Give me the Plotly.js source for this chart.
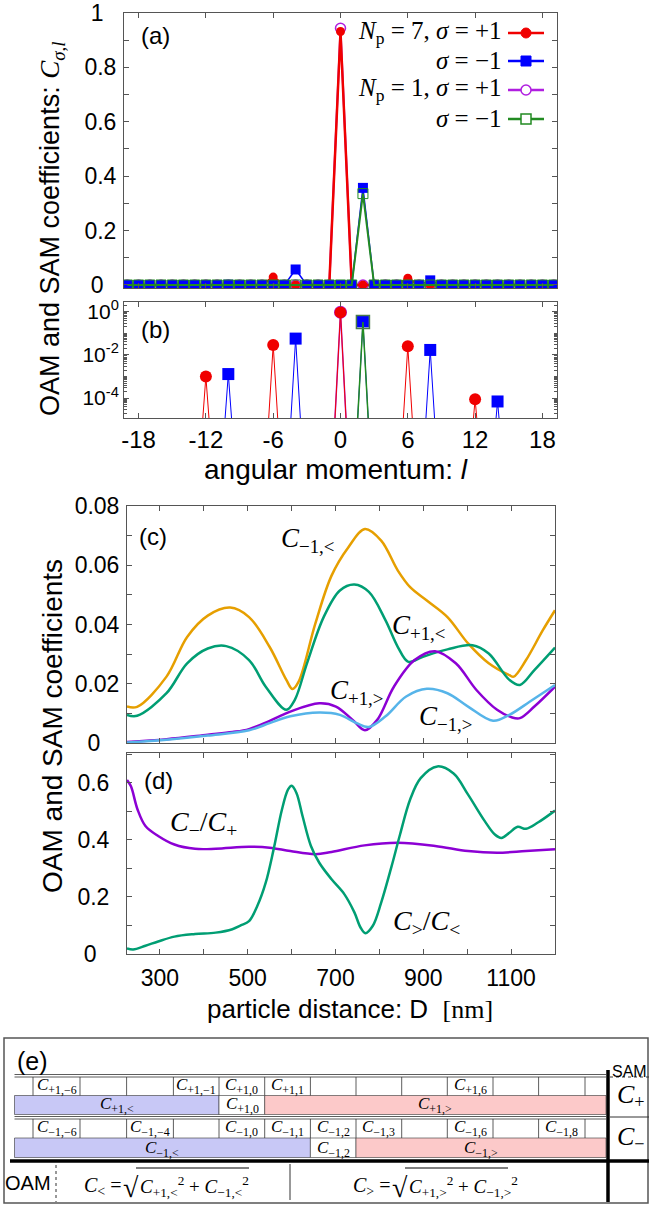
<!DOCTYPE html>
<html><head><meta charset="utf-8">
<script src="https://cdn.plot.ly/plotly-3.0.1.min.js"></script>
<style>html,body{margin:0;padding:0;background:#fff}#chart{width:649px;height:1207px}</style>
</head><body><div id="chart"></div>
<script>
const W = 649, H = 1207;
const px = x => x / W, py = y => 1 - y / H;

// ---------- panels (a),(b): coefficients vs angular momentum l ----------
const z = 1e-10; // numerically zero coefficient
const lValues = [-19,-18,-17,-16,-15,-14,-13,-12,-11,-10,-9,-8,-7,-6,-5,-4,-3,-2,-1,0,1,2,3,4,5,6,7,8,9,10,11,12,13,14,15,16,17,18,19];
const cPlusNp7  = [z,z,z,z,z,z,z,1.0e-3,z,z,z,z,z,0.029,z,z,z,z,z,0.932,z,z,z,z,z,0.025,z,z,z,z,z,8.9e-5,z,z,z,z,z,z,z];
const cMinusNp7 = [z,z,z,z,z,z,z,z,z,1.3e-3,z,z,z,z,z,0.057,z,z,z,z,z,0.357,z,z,z,z,z,0.017,z,z,z,z,z,7.0e-5,z,z,z,z,z];
const cPlusNp1  = [z,z,z,z,z,z,z,z,z,z,z,z,z,z,z,z,z,z,z,0.944,z,z,z,z,z,z,z,z,z,z,z,z,z,z,z,z,z,z,z];
const cMinusNp1 = [z,z,z,z,z,z,z,z,z,z,z,z,z,z,z,z,z,z,z,z,z,0.336,z,z,z,z,z,z,z,z,z,z,z,z,z,z,z,z,z];
const lTicks = [-18,-12,-6,0,6,12,18];
const lTickText = ['-18','-12','-6','0','6','12','18'];
const aTicks = [0,0.2,0.4,0.6,0.8,1];
const aTickText = ['0\u2007','0.2','0.4','0.6','0.8','1\u2007'];
const aMinor = [0.1,0.3,0.5,0.7,0.9];
const bTicks = [1e-4,1e-2,1];
const bTickText = ['10<sup>-4</sup>','10<sup>-2</sup>','10<sup>0</sup>'];

// ---------- panel (c): SAM-resolved OAM coefficients vs D ----------
const dMinusLess = [225,248,315,362,409,460,503,550,588,602,616,654,691,729,767,804,842,870,908,955,1002,1049,1096,1106,1134,1172,1200];
const cMinusLess = [0.0123,0.0122,0.0224,0.0358,0.043,0.0457,0.0425,0.0324,0.0213,0.0182,0.0207,0.0403,0.0565,0.066,0.0722,0.0683,0.0582,0.0526,0.0481,0.0425,0.0336,0.0269,0.0229,0.0224,0.028,0.038,0.0448];
const dPlusLess = [225,248,315,362,409,451,503,541,588,607,635,673,710,743,776,814,842,866,899,955,1012,1049,1096,1120,1153,1200];
const cPlusLess = [0.0095,0.0092,0.0168,0.0269,0.0319,0.0327,0.028,0.019,0.0112,0.0145,0.0269,0.0425,0.0515,0.0535,0.051,0.0414,0.0324,0.0274,0.0291,0.0316,0.033,0.0302,0.0213,0.0196,0.0246,0.0322];
const dPlusGreater = [225,315,409,465,503,550,597,663,701,739,767,795,833,880,927,974,1021,1068,1101,1120,1153,1200];
const cPlusGreater = [0.0003,0.0013,0.0028,0.0037,0.0047,0.0075,0.0106,0.0134,0.0123,0.0078,0.0043,0.0078,0.019,0.028,0.031,0.0269,0.0179,0.0112,0.0087,0.0084,0.0123,0.019];
const dMinusGreater = [225,315,409,503,550,597,663,710,748,776,814,861,908,955,1002,1059,1096,1143,1200];
const cMinusGreater = [0.0002,0.0011,0.0025,0.0043,0.0067,0.009,0.0103,0.0095,0.0067,0.0054,0.009,0.0157,0.0183,0.0168,0.0123,0.0075,0.0095,0.014,0.0196];
const cTicks = [0,0.02,0.04,0.06,0.08];
const cTickText = ['0\u2007\u2008','0.02','0.04','0.06','0.08'];
const cMinor = [0.01,0.03,0.05,0.07];

// ---------- panel (d): ratios vs D ----------
const dRatioSam = [225,234,249,267,296,333,380,427,503,550,597,654,691,766,842,927,1002,1068,1134,1200];
const ratioSam  = [0.61,0.588,0.507,0.449,0.414,0.384,0.369,0.369,0.376,0.373,0.361,0.35,0.358,0.381,0.39,0.379,0.361,0.355,0.361,0.367];
const dRatioOam = [225,239,267,296,333,380,427,465,484,503,522,541,559,578,592,600,611,625,644,663,691,720,743,757,768,785,804,828,847,870,894,932,969,1002,1040,1063,1078,1096,1115,1134,1162,1200];
const ratioOam  = [0.0198,0.016,0.029,0.044,0.061,0.07,0.075,0.087,0.1,0.115,0.169,0.25,0.367,0.507,0.577,0.59,0.565,0.483,0.379,0.32,0.262,0.21,0.146,0.093,0.073,0.099,0.18,0.309,0.419,0.542,0.617,0.658,0.633,0.559,0.466,0.419,0.407,0.425,0.446,0.439,0.462,0.503];
const dTicks = [300,500,700,900,1100];
const dTickText = ['300','500','700','900','1100'];
const dMinor = [400,600,800,1000];
const ddTicks = [0,0.2,0.4,0.6];
const ddTickText = ['0\u2007','0.2','0.4','0.6'];
const ddMinor = [0.1,0.3,0.5,0.7];

// ---------- panel (e): schematic table ----------
const cellEdges = [33,80,126.6,173.4,219,264.7,310.4,356,401.7,447.3,493,538.6,585];
const row1Labels = ['+1,−6','','','+1,−1','+1,0','+1,1','','','','+1,6','',''];
const row2Labels = ['−1,−6','','−1,−4','','−1,0','−1,1','−1,2','−1,3','','−1,6','','−1,8'];

const RED = '#f00000', BLUE = '#0000ff', PURPLE = '#b01ee0', GREEN = '#228b22';
const C_ORANGE = '#e69f00', C_GREEN = '#009e73', C_PURPLE = '#8c00d4', C_SKY = '#56b4e9';
const AX = '#555555';
const SERIF = 'Liberation Serif';

const traces = [];
// panel (a)
traces.push({x:lValues, y:cPlusNp1, xaxis:'x', yaxis:'y', mode:'lines+markers', line:{color:PURPLE,width:2}, marker:{symbol:'circle-open',size:10,color:PURPLE,line:{width:1.5}}, showlegend:false});
traces.push({x:lValues, y:cPlusNp7, xaxis:'x', yaxis:'y', mode:'lines+markers', line:{color:RED,width:2.5}, marker:{symbol:'circle',size:9,color:RED}, showlegend:false});
traces.push({x:lValues, y:cMinusNp7, xaxis:'x', yaxis:'y', mode:'lines+markers', line:{color:BLUE,width:1.5}, marker:{symbol:'square',size:10,color:BLUE}, showlegend:false});
traces.push({x:lValues, y:cMinusNp1, xaxis:'x', yaxis:'y', mode:'lines+markers', line:{color:GREEN,width:2}, marker:{symbol:'square-open',size:10,color:GREEN,line:{width:1}}, showlegend:false});
// panel (b)
traces.push({x:lValues, y:cPlusNp1, xaxis:'x2', yaxis:'y2', mode:'lines+markers', line:{color:PURPLE,width:1.5}, marker:{symbol:'circle',size:13,color:PURPLE}, showlegend:false});
traces.push({x:lValues, y:cPlusNp7, xaxis:'x2', yaxis:'y2', mode:'lines+markers', line:{color:RED,width:1}, marker:{symbol:'circle',size:12,color:RED}, showlegend:false});
traces.push({x:lValues, y:cMinusNp7, xaxis:'x2', yaxis:'y2', mode:'lines+markers', line:{color:BLUE,width:1}, marker:{symbol:'square',size:12,color:BLUE}, showlegend:false});
traces.push({x:lValues, y:cMinusNp1, xaxis:'x2', yaxis:'y2', mode:'lines+markers', line:{color:GREEN,width:1.5}, marker:{symbol:'square-open',size:13,color:'#4a7a4a',line:{width:1.5}}, showlegend:false});
// panel (c)
traces.push({x:dMinusLess, y:cMinusLess, xaxis:'x3', yaxis:'y3', mode:'lines', line:{color:C_ORANGE,width:2.5,shape:'spline',smoothing:1}, showlegend:false});
traces.push({x:dPlusLess, y:cPlusLess, xaxis:'x3', yaxis:'y3', mode:'lines', line:{color:C_GREEN,width:2.5,shape:'spline',smoothing:1}, showlegend:false});
traces.push({x:dPlusGreater, y:cPlusGreater, xaxis:'x3', yaxis:'y3', mode:'lines', line:{color:C_PURPLE,width:2.5,shape:'spline',smoothing:1}, showlegend:false});
traces.push({x:dMinusGreater, y:cMinusGreater, xaxis:'x3', yaxis:'y3', mode:'lines', line:{color:C_SKY,width:2.5,shape:'spline',smoothing:1}, showlegend:false});
// panel (d)
traces.push({x:dRatioSam, y:ratioSam, xaxis:'x4', yaxis:'y4', mode:'lines', line:{color:C_PURPLE,width:2.5,shape:'spline',smoothing:1}, showlegend:false});
traces.push({x:dRatioOam, y:ratioOam, xaxis:'x4', yaxis:'y4', mode:'lines', line:{color:C_GREEN,width:2.5,shape:'spline',smoothing:1}, showlegend:false});

const tickFont = {family:'Liberation Sans', size:23, color:'#000'};
const frame = {showline:true, linecolor:AX, linewidth:1, mirror:'ticks', ticks:'inside', ticklen:5, tickcolor:AX, showgrid:false, zeroline:false, fixedrange:true};
const minorOf = vals => ({tickvals:vals, ticks:'inside', ticklen:5, tickcolor:AX, showgrid:false});

const logMinor = [1e-5,1e-3,1e-1];
for (let e = -5; e <= 0; e++) for (let m = 2; m <= 9; m++) logMinor.push(m * Math.pow(10, e));

const layout = {
  width: W, height: H, margin:{l:0,r:0,t:0,b:0}, paper_bgcolor:'#fff', plot_bgcolor:'#fff',
  font:{family:'Liberation Sans', color:'#000'}, showlegend:false,
  xaxis: Object.assign({}, frame, {domain:[px(124),px(557)], range:[-19.3,19.3], anchor:'y', tickvals:lTicks, showticklabels:false}),
  yaxis: Object.assign({}, frame, {domain:[py(288),py(13)], range:[-0.0111,1], anchor:'x', tickvals:aTicks, ticktext:aTickText, minor:minorOf(aMinor), tickfont:tickFont, ticklabelstandoff:2}),
  xaxis2: Object.assign({}, frame, {domain:[px(124),px(557)], range:[-19.3,19.3], anchor:'y2', tickvals:lTicks, ticktext:lTickText, tickfont:{family:'Liberation Sans', size:24, color:'#000'}, ticklabelstandoff:0}),
  yaxis2: Object.assign({}, frame, {domain:[py(418),py(302)], type:'log', range:[-4.92,0.45], anchor:'x2', tickvals:bTicks, ticktext:bTickText, tickfont:{family:'Liberation Sans', size:21, color:'#000'}, minor:{tickvals:logMinor, ticks:'inside', ticklen:3, tickcolor:AX, showgrid:false}}),
  xaxis3: Object.assign({}, frame, {domain:[px(127),px(555)], range:[225,1200], anchor:'y3', tickvals:dTicks, minor:minorOf(dMinor), showticklabels:false}),
  yaxis3: Object.assign({}, frame, {domain:[py(743),py(506)], range:[0,0.08], anchor:'x3', tickvals:cTicks, ticktext:cTickText, minor:minorOf(cMinor), tickfont:tickFont, ticklabelstandoff:2}),
  xaxis4: Object.assign({}, frame, {domain:[px(127),px(555)], range:[225,1200], anchor:'y4', tickvals:dTicks, ticktext:dTickText, minor:minorOf(dMinor), tickfont:tickFont, ticklabelstandoff:3}),
  yaxis4: Object.assign({}, frame, {domain:[py(954),py(753)], range:[0,0.705], anchor:'x4', tickvals:ddTicks, ticktext:ddTickText, minor:minorOf(ddMinor), tickfont:tickFont, ticklabelstandoff:12}),
  annotations: [], shapes: []
};
const A = layout.annotations, S = layout.shapes;
function note(x, y, text, size, opts) {
  A.push(Object.assign({xref:'paper', yref:'paper', x:px(x), y:py(y), text:text, showarrow:false, xanchor:'center', yanchor:'middle', font:{family:'Liberation Sans', size:size, color:'#000'}}, opts || {}));
}
function serif(x, y, text, size, opts) {
  note(x, y, text, size, Object.assign({font:{family:SERIF, size:size, color:'#000'}}, opts || {}));
}
function line(x0, y0, x1, y1, color, width, dash) {
  S.push({type:'line', xref:'paper', yref:'paper', x0:px(x0), y0:py(y0), x1:px(x1), y1:py(y1), line:{color:color, width:width, dash:dash || 'solid'}});
}
function rect(x0, y0, x1, y1, fill, lc, lw) {
  S.push({type:'rect', xref:'paper', yref:'paper', x0:px(x0), y0:py(y0), x1:px(x1), y1:py(y1), fillcolor:fill, line:{color:lc, width:lw}});
}
function marker(type, cx, cy, r, fill, lc, lw) {
  S.push({type:type, xref:'paper', yref:'paper', xsizemode:'pixel', ysizemode:'pixel', xanchor:px(cx), yanchor:py(cy), x0:-r, x1:r, y0:-r, y1:r, fillcolor:fill, line:{color:lc, width:lw}});
}
const Cs = s => `<i>C</i><sub>${s}</sub>`;

// panel labels
note(155, 36, '(a)', 24); note(155, 330, '(b)', 24); note(153, 536, '(c)', 24); note(158, 780, '(d)', 24);
// axis titles
note(52, 229, 'OAM and SAM coefficients: <span style="font-family:Liberation Serif"><i>C</i><sub><i>σ</i>,<i>l</i></sub></span>', 27, {textangle:-90});
note(52, 726, 'OAM and SAM coefficients', 28, {textangle:-90});
note(336, 470, 'angular momentum: <i>l</i>', 28);
note(350, 1009, 'particle distance: D  <span style="font-family:Liberation Serif">[nm]</span>', 26);

// legend of panel (a)
const legRows = [33, 61, 90, 119];
const legText = ['<i>N</i><sub>p</sub> = 7, <i>σ</i> = +1', '<i>σ</i> = −1', '<i>N</i><sub>p</sub> = 1, <i>σ</i> = +1', '<i>σ</i> = −1'];
const legColor = [RED, BLUE, PURPLE, GREEN];
legRows.forEach((y, i) => {
  serif(504, y, legText[i], 25, {xanchor:'right'});
  line(508, y, 544, y, legColor[i], 2.5);
});
marker('circle', 526, legRows[0], 5, RED, RED, 1);
marker('rect', 526, legRows[1], 5, BLUE, BLUE, 1);
marker('circle', 526, legRows[2], 5, '#fff', PURPLE, 1.5);
marker('rect', 526, legRows[3], 5, '#fff', GREEN, 1.5);

// curve labels (c),(d)
serif(308, 540, Cs('−1,&lt;'), 27);
serif(419, 627, Cs('+1,&lt;'), 27);
serif(357, 692, Cs('+1,&gt;'), 27);
serif(446, 718, Cs('−1,&gt;'), 27);
serif(203, 823, '<i>C</i><sub>−</sub>/<i>C</i><sub>+</sub>', 28);
serif(426, 922, '<i>C</i><sub>&gt;</sub>/<i>C</i><sub>&lt;</sub>', 28);

// ---------- panel (e) drawing ----------
rect(4, 1038, 648, 1203, 'rgba(0,0,0,0)', '#555', 1.5);
note(32, 1061, '(e)', 25);
const rowTop1 = 1077, rowBot1 = 1095.5, barBot1 = 1114.5, rowTop2 = 1119, rowBot2 = 1138, barBot2 = 1157.5;
rect(14.5, rowBot1, 219, barBot1, '#c8c8f6', '#333', 0.6);
rect(219, rowBot1, 264.7, barBot1, '#ffffff', '#333', 0.6);
rect(264.7, rowBot1, 606, barBot1, '#fcc9c9', '#333', 0.6);
rect(14.5, rowBot2, 310.4, barBot2, '#c8c8f6', '#333', 0.6);
rect(310.4, rowBot2, 356, barBot2, '#ffffff', '#333', 0.6);
rect(356, rowBot2, 606, barBot2, '#fcc9c9', '#333', 0.6);
line(14.5, 1074.5, 606, 1074.5, '#333', 0.8); line(14.5, rowTop1, 606, rowTop1, '#333', 0.8);
line(14.5, 1116.5, 606, 1116.5, '#333', 0.8); line(14.5, rowTop2, 606, rowTop2, '#333', 0.8);
cellEdges.forEach(x => { line(x, rowTop1, x, rowBot1, '#333', 0.8); line(x, rowTop2, x, rowBot2, '#333', 0.8); });
for (let i = 0; i < cellEdges.length - 1; i++) {
  const cx = (cellEdges[i] + cellEdges[i + 1]) / 2;
  if (row1Labels[i]) serif(cx, 1086, Cs(row1Labels[i]), 17);
  if (row2Labels[i]) serif(cx, 1128, Cs(row2Labels[i]), 17);
}
serif(117, 1105, Cs('+1,&lt;'), 17); serif(242, 1105, Cs('+1,0'), 17); serif(435, 1105, Cs('+1,&gt;'), 17);
serif(162, 1148.5, Cs('−1,&lt;'), 17); serif(333, 1148.5, Cs('−1,2'), 17); serif(481, 1148.5, Cs('−1,&gt;'), 17);
line(10, 1161, 649, 1161, '#000', 3.5);
line(608, 1070, 608, 1202, '#000', 3.5);
note(610, 1071, 'SAM', 16, {xanchor:'left'});
line(610, 1077, 649, 1077, '#333', 1, 'dot');
line(610, 1117, 649, 1117, '#333', 1);
serif(631, 1096, '<i>C</i><sub>+</sub>', 26);
serif(631, 1138, '<i>C</i><sub>−</sub>', 26);
note(28, 1183, 'OAM', 20);
line(56, 1165, 56, 1202, '#333', 1, 'dot');
line(290, 1164, 290, 1200, '#333', 1);
// formulas: C< and C>
serif(124, 1186, '<i>C</i><sub>&lt;</sub> =', 20, {xanchor:'right'});
serif(131, 1187, '√', 28);
serif(138, 1186, '<i>C</i><sub>+1,&lt;</sub><sup>2</sup> + <i>C</i><sub>−1,&lt;</sub><sup>2</sup>', 19, {xanchor:'left'});
line(136, 1168, 249, 1168, '#000', 1);
serif(393, 1186, '<i>C</i><sub>&gt;</sub> =', 20, {xanchor:'right'});
serif(400, 1187, '√', 28);
serif(407, 1186, '<i>C</i><sub>+1,&gt;</sub><sup>2</sup> + <i>C</i><sub>−1,&gt;</sub><sup>2</sup>', 19, {xanchor:'left'});
line(405, 1168, 508, 1168, '#000', 1);

Plotly.newPlot('chart', traces, layout, {staticPlot:true, displayModeBar:false});
</script>
</body></html>
